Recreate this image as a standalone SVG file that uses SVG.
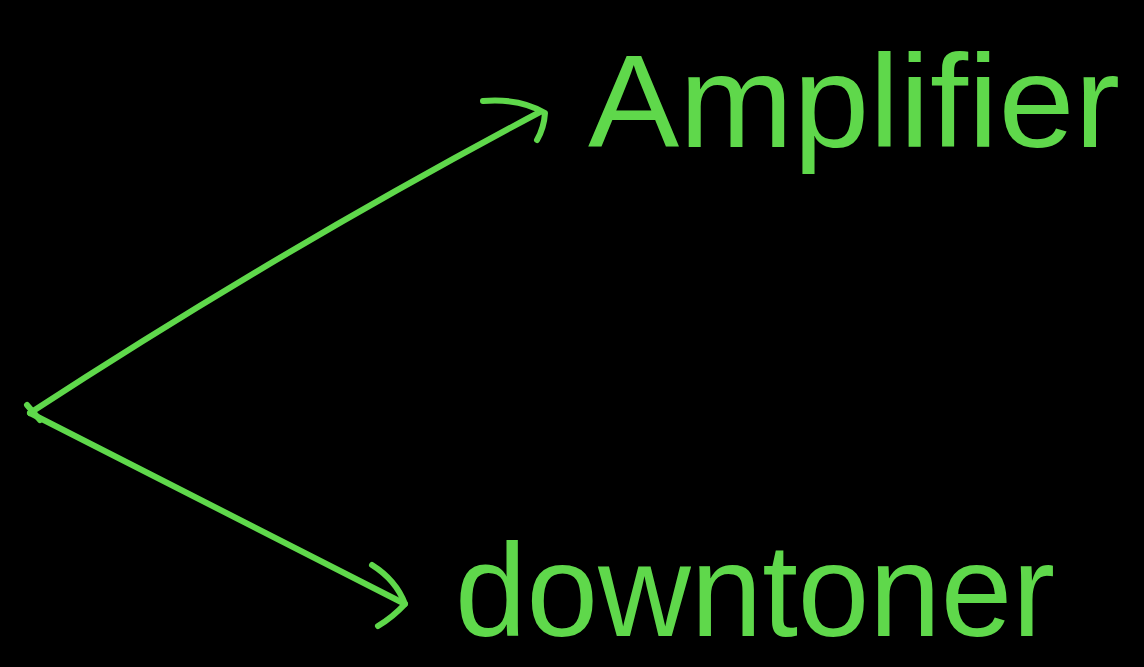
<svg xmlns="http://www.w3.org/2000/svg" width="1144" height="667" viewBox="0 0 1144 667">
<style>
.ln{fill:none;stroke:#5fd84b;stroke-width:6;stroke-linecap:round;stroke-linejoin:round}
.tx{fill:#5fd84b;font-family:"Liberation Sans",Arial,sans-serif;font-weight:normal}
</style>
<rect x="0" y="0" width="1144" height="667" fill="#000"/>
<g id="connectors">
<path class="ln" d="M30,413 Q280,250 540,112"/>
<path class="ln" d="M483,101 Q520,98 545,113 Q544,128 537,140"/>
<path class="ln" d="M30,413 Q220,510 405,604"/>
<path class="ln" d="M372,565 Q396,580 405,604 Q393,617 378,626"/>
<path class="ln" d="M27,405 L40,420"/>
</g>
<g id="amplifier">
<text class="tx" x="588" y="147" font-size="132" textLength="532" lengthAdjust="spacingAndGlyphs">Amplifier</text>
</g>
<g id="downtoner">
<text class="tx" x="455" y="636" font-size="132" textLength="600" lengthAdjust="spacingAndGlyphs">downtoner</text>
</g>
</svg>
